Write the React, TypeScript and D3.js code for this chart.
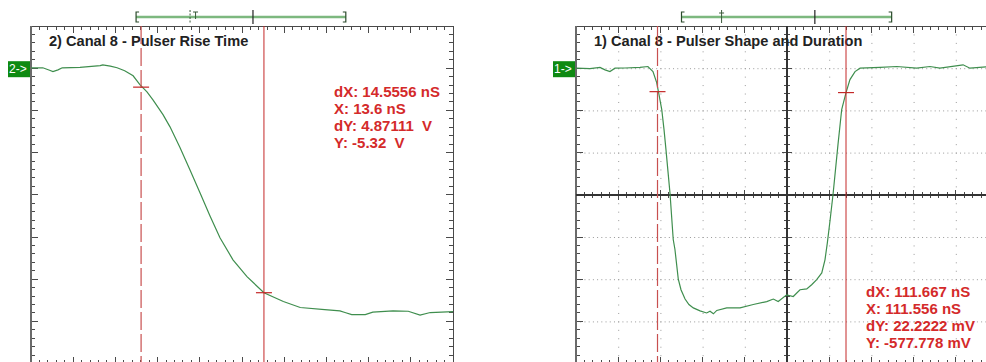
import React from 'react';
import * as d3 from 'd3';

// Channel 2 — pulser falling edge (time in ns, amplitude in V)
const riseTimeNs = [
  -14.0, -12.6, -11.8, -11.4, -10.8, -10.3, -8.2, -5.8, -5.5, -4.6, -3.8, -2.9, -1.9, -1.1,
  -0.26, 0.45, 1.64, 2.47, 3.65, 4.84, 6.02, 7.21, 8.39, 9.93, 11.59, 13.6, 15.9, 17.9, 20.8,
  22.6, 23.2, 24.0, 25.6, 26.5, 28.9, 30.7, 32.1, 33.3, 36.0,
];
const riseVolts = [
  0.01, 0.01, -0.05, -0.08, -0.04, 0.01, 0.02, 0.06, 0.08, 0.05, 0.01, -0.06, -0.18, -0.39,
  -0.56, -0.75, -1.1, -1.39, -1.88, -2.41, -2.95, -3.5, -4.02, -4.54, -4.94, -5.32, -5.53, -5.67, -5.72,
  -5.75, -5.79, -5.84, -5.84, -5.78, -5.75, -5.76, -5.85, -5.79, -5.77,
];

// Channel 1 — complete pulse (time in ns, amplitude in V)
const pulseTimeNs = [
  -48.4, -40.1, -34.2, -31.2, -28.3, -25.3, -19.4, -10.5, -5.8, -2.8, -0.6, 0.8, 2.4, 3.73, 4.9,
  6.1, 7.3, 9.2, 10.2, 12.2, 13.8, 16.2, 18.5, 21.1, 25.1, 29.0, 31.0, 33.0, 35.0, 40.9, 48.8,
  56.6, 64.6, 68.5, 71.4, 76.4, 80.3, 84.3, 88.3, 91.2, 94.2, 97.2, 99.1, 100.5, 102.1, 103.9,
  106.8, 109.0, 111.556, 113.9, 116.9, 119.9, 131.7, 141.6, 153.4, 161.3, 167.2, 180.9, 185.0,
  194.5, 201.6,
];
const pulseVolts = [
  0.0, -0.01, 0.02, -0.04, -0.08, 0.0, 0.005, 0.02, 0.04, -0.08, -0.34, -0.63, -0.98, -1.45, -1.93,
  -2.45, -2.97, -4.06, -4.29, -5.0, -5.25, -5.47, -5.6, -5.68, -5.75, -5.8, -5.76, -5.82, -5.74, -5.68, -5.68,
  -5.6, -5.53, -5.47, -5.53, -5.37, -5.41, -5.25, -5.23, -5.13, -5.01, -4.85, -4.54, -4.14, -3.61, -2.98,
  -1.81, -0.98, -0.578, -0.27, -0.08, 0.0, 0.02, 0.04, 0.0, 0.04, 0.0, 0.08, 0.0,
  0.03, 0.01,
];

// Screen windows: 10 horizontal divisions, 8 vertical divisions at 1 V/div
const riseWindowNs = [-14, 36];
const pulseWindowNs = [-48.4, 201.6];
const voltWindow = [-7, 1];

// Cursor readouts: dX, X, dY, Y
const readoutKeys = ['dX', 'X', 'dY', 'Y'];
const riseReadout = [14.5556, 13.6, 4.87111, -5.32];
const riseUnits = ['nS', 'nS', ' V', ' V'];
const pulseReadout = [111.667, 111.556, 22.2222, -577.778];
const pulseUnits = ['nS', 'nS', 'mV', 'mV'];

const riseTitle = '2) Canal 8 - Pulser Rise Time';
const pulseTitle = '1) Canal 8 - Pulser Shape and Duration';

const FONT = '"Liberation Sans", Arial, sans-serif';
const DIV = 42.2;
const COLS = 10;
const ROWS = 8;
const MINOR = 5;

type PanelProps = {
  left: number;
  top: number;
  title: string;
  channel: string;
  times: number[];
  volts: number[];
  window: number[];
  readout: number[];
  units: string[];
  readoutPos: [number, number];
  grid: boolean;
  bar: { start: number; end: number; trig: number; mark: number; dottedTrig: boolean };
  clipId: string;
};

function Panel(p: PanelProps) {
  const w = COLS * DIV;
  const h = ROWS * DIV;
  const x = d3.scaleLinear().domain(p.window).range([p.left, p.left + w]);
  const y = d3.scaleLinear().domain(voltWindow).range([p.top + h, p.top]);
  const line = d3
    .line<number>()
    .x((_, i) => x(p.times[i]))
    .y((v) => y(v))
    .curve(d3.curveLinear);

  const scaleV = p.units[3].trim() === 'mV' ? 0.001 : 1;
  const solidT = p.readout[1];
  const dashT = p.readout[1] - p.readout[0];
  const solidV = p.readout[3] * scaleV;
  const dashV = (p.readout[3] + p.readout[2]) * scaleV;

  const xs = d3.range(COLS * MINOR + 1).map((i) => p.left + (i * w) / (COLS * MINOR));
  const ys = d3.range(ROWS * MINOR + 1).map((i) => p.top + (i * h) / (ROWS * MINOR));
  const cx = p.left + w / 2;
  const cy = p.top + h / 2;
  const frame = '#4a4a4a';
  const ticks: JSX.Element[] = [];
  xs.forEach((px, i) => {
    const len = i % MINOR === 0 ? 7 : 4;
    ticks.push(<line key={'t' + i} x1={px} x2={px} y1={p.top} y2={p.top + len} />);
    ticks.push(<line key={'b' + i} x1={px} x2={px} y1={p.top + h} y2={p.top + h - len} />);
    if (p.grid) {
      const l2 = i % MINOR === 0 ? 5 : 3;
      ticks.push(<line key={'c' + i} x1={px} x2={px} y1={cy - l2} y2={cy + l2} />);
    }
  });
  ys.forEach((py, i) => {
    const len = i % MINOR === 0 ? 7 : 4;
    ticks.push(<line key={'l' + i} x1={p.left} x2={p.left + len} y1={py} y2={py} />);
    ticks.push(<line key={'r' + i} x1={p.left + w} x2={p.left + w - len} y1={py} y2={py} />);
    if (p.grid) {
      const l2 = i % MINOR === 0 ? 5 : 3;
      ticks.push(<line key={'m' + i} x1={cx - l2} x2={cx + l2} y1={py} y2={py} />);
    }
  });

  const barY = p.top - 9;
  const bx0 = p.left + p.bar.start * w;
  const bx1 = p.left + p.bar.end * w;
  const bt = p.left + p.bar.trig * w;
  const bm = p.left + p.bar.mark * w;
  const red = '#c42828';
  const nb = (s: string) => s.replace(/ /g, '\u00a0');

  return (
    <g>
      <defs>
        <clipPath id={p.clipId}>
          <rect x={p.left} y={p.top} width={w} height={h} />
        </clipPath>
      </defs>
      {p.grid && (
        <g stroke="#9a9a9a" strokeWidth={1}>
          {d3.range(1, COLS).filter((i) => i !== COLS / 2).map((i) => (
            <line key={'gv' + i} x1={p.left + i * DIV + 0.5} x2={p.left + i * DIV + 0.5} y1={p.top} y2={p.top + h}
              strokeDasharray={`1 ${DIV / MINOR - 1}`} />
          ))}
          {d3.range(1, ROWS).filter((i) => i !== ROWS / 2).map((i) => (
            <line key={'gh' + i} y1={p.top + i * DIV + 0.5} y2={p.top + i * DIV + 0.5} x1={p.left} x2={p.left + w}
              strokeDasharray={`1 ${DIV / (2 * MINOR) - 1}`} />
          ))}
        </g>
      )}
      <g stroke={frame} strokeWidth={1} shapeRendering="crispEdges">
        {ticks}
        <line x1={p.left} x2={p.left + w} y1={p.top} y2={p.top} />
        <line x1={p.left} x2={p.left + w} y1={p.top + h} y2={p.top + h} />
        <line x1={p.left + w} x2={p.left + w} y1={p.top} y2={p.top + h} />
        <line x1={p.left} x2={p.left} y1={p.top} y2={p.top + h} strokeWidth={2} stroke="#6a6a6a" />
        {p.grid && <line x1={cx} x2={cx} y1={p.top} y2={p.top + h} strokeWidth={1.5} stroke="#333" />}
        {p.grid && <line x1={p.left} x2={p.left + w} y1={cy} y2={cy} strokeWidth={1.5} stroke="#333" />}
      </g>

      <text x={p.left + 18} y={p.top + 20} fontFamily={FONT} fontWeight="bold" fontSize={14.6} fill="#222">
        {p.title}
      </text>

      <g clipPath={`url(#${p.clipId})`}>
        <path d={line(p.volts) ?? ''} fill="none" stroke="#3f8e4e" strokeWidth={1.2} />
      </g>

      {/* cursors */}
      <line x1={x(dashT)} x2={x(dashT)} y1={p.top} y2={p.top + h} stroke="#c85050" strokeWidth={1.2} strokeDasharray="18 4" />
      <line x1={x(solidT)} x2={x(solidT)} y1={p.top} y2={p.top + h} stroke={red} strokeWidth={1} />
      <line x1={x(dashT) - 8} x2={x(dashT) + 8} y1={y(dashV)} y2={y(dashV)} stroke={red} strokeWidth={1.2} />
      <line x1={x(solidT) - 8} x2={x(solidT) + 8} y1={y(solidV)} y2={y(solidV)} stroke={red} strokeWidth={1.2} />

      <g fontFamily={FONT} fontWeight="bold" fontSize={15} fill="#d42a2a">
        {readoutKeys.map((k, i) => (
          <text key={k} x={p.readoutPos[0]} y={p.readoutPos[1] + i * 17}>
            {nb(`${k}: ${p.readout[i]} ${p.units[i]}`)}
          </text>
        ))}
      </g>

      {/* ground reference marker */}
      <rect x={p.left - 23} y={y(0) - 7} width={22} height={16} fill="#0e8a12" />
      <text x={p.left - 22} y={y(0) + 5} fontFamily={FONT} fontSize={12} fill="#fff">
        {p.channel}
      </text>

      {/* record position bar */}
      <line x1={bx0} x2={bx1} y1={barY} y2={barY} stroke="#7db87f" strokeWidth={2.5} />
      <g stroke="#2b4a2b" strokeWidth={1.2} fill="none">
        <path d={`M${bx0 + 3},${barY - 5} H${bx0} V${barY + 5} H${bx0 + 3}`} />
        <path d={`M${bx1 - 3},${barY - 5} H${bx1} V${barY + 5} H${bx1 - 3}`} />
      </g>
      <line x1={bm} x2={bm} y1={barY - 7} y2={barY + 7} stroke="#222" strokeWidth={1.2} />
      {p.bar.dottedTrig ? (
        <g stroke="#3a5a3a" strokeWidth={1}>
          <line x1={bt - 3} x2={bt - 3} y1={barY - 7} y2={barY + 6} strokeDasharray="2 1.5" />
          <line x1={bt} x2={bt + 5} y1={barY - 5} y2={barY - 5} />
          <line x1={bt + 2.5} x2={bt + 2.5} y1={barY - 5} y2={barY + 2} />
        </g>
      ) : (
        <g stroke="#3a5a3a" strokeWidth={1}>
          <line x1={bt} x2={bt} y1={barY - 7} y2={barY + 6} />
          <line x1={bt - 2.5} x2={bt + 2.5} y1={barY - 4} y2={barY - 4} />
        </g>
      )}
    </g>
  );
}

export default function App() {
  return (
    <svg
      width={986}
      height={362}
      viewBox="0 0 986 362"
      style={{ position: 'absolute', left: 0, top: 0, background: '#fff' }}
    >
      <rect width={986} height={362} fill="#fff" />
      <Panel
        left={31}
        top={26}
        title={riseTitle}
        channel="2->"
        times={riseTimeNs}
        volts={riseVolts}
        window={riseWindowNs}
        readout={riseReadout}
        units={riseUnits}
        readoutPos={[334, 96.5]}
        grid={false}
        bar={{ start: 0.249, end: 0.746, trig: 0.384, mark: 0.526, dottedTrig: true }}
        clipId="clip-rise"
      />
      <Panel
        left={576}
        top={26}
        title={pulseTitle}
        channel="1->"
        times={pulseTimeNs}
        volts={pulseVolts}
        window={pulseWindowNs}
        readout={pulseReadout}
        units={pulseUnits}
        readoutPos={[866, 296.5]}
        grid={true}
        bar={{ start: 0.25, end: 0.748, trig: 0.345, mark: 0.566, dottedTrig: false }}
        clipId="clip-pulse"
      />
    </svg>
  );
}
